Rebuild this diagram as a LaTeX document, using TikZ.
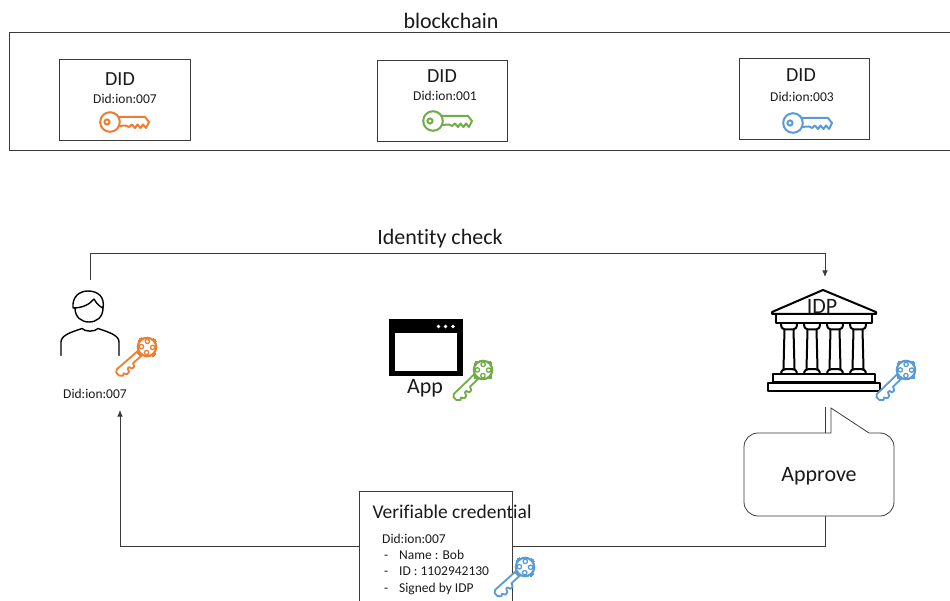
\documentclass[tikz,border=0pt]{standalone}
\usepackage{fontspec}
\setmainfont[Ligatures={NoCommon}]{Carlito}
\usetikzlibrary{arrows.meta}
\definecolor{korange}{HTML}{ED7D31}
\definecolor{kgreen}{HTML}{70AD47}
\definecolor{kblue}{HTML}{5B9BD5}
\definecolor{ink}{HTML}{1A1A1A}
\definecolor{edge}{HTML}{3A3A3A}
\tikzset{
  big/.style={font=\fontsize{22}{24}\selectfont,text=ink,inner sep=0pt},
  mid/.style={font=\fontsize{20}{22}\selectfont,text=ink,inner sep=0pt},
  vctitle/.style={font=\fontsize{19.5}{22}\selectfont,text=ink,inner sep=0pt},
  small/.style={font=\fontsize{13.5}{15}\selectfont,text=ink,inner sep=0pt},
  didbox/.style={draw=edge,line width=0.8pt,minimum width=130.5pt,minimum height=81pt,inner sep=0pt},
  link/.style={draw=edge,line width=0.8pt},
  tip/.style={-{Latex[length=6.5pt,width=5.5pt]}},
  ghost/.style={inner sep=0pt,outer sep=0pt},
  pics/flatkey/.style={code={
    \begin{scope}[draw=#1,line width=2pt,line join=round]
      \draw[fill=white] (8,-5) -- (35,-5) -- (39,0) -- (36,6) -- (33,2.5) -- (30.5,6) -- (27.5,2.5) -- (25,6) -- (22,2.5) -- (19,5) -- (16,3.5) -- (8,4);
      \draw[fill=white] (0,0) circle (9.8);
      \draw (-3,0) circle (2.6);
    \end{scope}
  }},
  pics/ornatekey/.style={code={
    \begin{scope}[draw=#1,line width=1.8pt,line join=round]
      \draw[fill=white] (9,-3) -- (21,-3) -- (22.5,-6.5) -- (25.5,-6.5) -- (26.5,-3.5) -- (28.5,-3.5) -- (30,-7) -- (33,-7.5) -- (35,-4.5) -- (37,-6) -- (40,-3) -- (40,1) -- (37.5,3) -- (9,3);
      \foreach \a in {0,90,180,270}
        \draw[fill=#1,line width=0pt] (\a:8.8) circle (2.6);
      \draw[fill=white,line width=2.2pt] (0,0) circle (9.2);
      \foreach \a in {45,135,225,315}
        \draw[line width=1.3pt] (\a:5.6) circle (2.2);
    \end{scope}
  }},
}
\begin{document}
\begin{tikzpicture}[x=1pt,y=-1pt]
\useasboundingbox (0,0) rectangle (950,601);
% blockchain band
\node[big] (chain) at (451,20.5) {blockchain};
\coordinate (bandA) at (950,32);
\coordinate (bandB) at (950,150.5);
\draw[link] (bandA) -- (9.5,32) -- (9.5,150.5) -- (bandB);
% DID boxes
\node[didbox] (boxa) at (124.75,99.5) {};
\node[mid] (dida) at (120,79) {DID};
\node[small] (ida) at (125,98.5) {Did:ion:007};
\pic at (110,122) {flatkey=korange};
\node[didbox] (boxb) at (442.25,100.5) {};
\node[mid] (didb) at (442,76) {DID};
\node[small] (idb) at (445,95.5) {Did:ion:001};
\pic at (433,121) {flatkey=kgreen};
\node[didbox] (boxc) at (804.25,99) {};
\node[mid] (didc) at (801,75) {DID};
\node[small] (idc) at (802,97) {Did:ion:003};
\pic at (793,123) {flatkey=kblue};
% anchor regions for the actors
\node[ghost,minimum width=60pt,minimum height=130pt] (user) at (90,345) {};
\node[ghost,minimum width=110pt,minimum height=130pt] (idp) at (825,342) {};
\node[ghost,minimum width=153pt,minimum height=110pt] (vc) at (435.5,546.5) {};
% connectors
\node[big] (check) at (440,238.5) {Identity check};
\draw[link,tip] (user.north) -- ++(0,-27) -| (idp.north);
\draw[link,tip] (vc.west) -| (user.south east);
\draw[link] (vc.east) -| (idp.south);
% person
\begin{scope}[draw=black,line width=1.4pt,line cap=round,line join=round]
  \draw (75,308) .. controls (75,317) and (81,322) .. (89,322) .. controls (97,322) and (103,317) .. (103,308);
  \draw (73,308) .. controls (72,297) and (79,291) .. (88,291) .. controls (98,291) and (105,297) .. (103,308) .. controls (100,307) and (96,303) .. (94,299) .. controls (90,304) and (83,308) .. (73,308);
  \draw (61,355.5) -- (61,342) .. controls (61,335) and (72,332) .. (82,328.5) .. controls (85,332) and (95,332) .. (98,328.5) .. controls (108,332) and (119,335) .. (119,342) -- (119,355.5);
\end{scope}
\pic[rotate=221] at (147,347) {ornatekey=korange};
\node[small] (idu) at (95,394) {Did:ion:007};
% app window
\fill[black] (389,319) rectangle (463,376);
\fill[white] (395,333) rectangle (457,371);
\fill[white] (438.5,326.5) circle (1.8) (445.5,326.5) circle (1.8) (453,326.5) circle (1.8);
\node[big] (app) at (425,388) {App};
\pic[rotate=224] at (483,370) {ornatekey=kgreen};
% bank building
\begin{scope}[draw=black,line width=2pt,line join=round]
  \draw (823,290) -- (772,312) -- (772,314) -- (876,314) -- (876,312) -- cycle;
  \draw (776,314) rectangle (872,323);
  \foreach \c in {789,812,835,858} {
    \draw (\c-8,324) .. controls (\c-8,328) and (\c-6,329.5) .. (\c-4,329.5) -- (\c+4,329.5) .. controls (\c+6,329.5) and (\c+8,328) .. (\c+8,324);
    \draw (\c-4.5,329) -- (\c-5.5,369) (\c+4.5,329) -- (\c+5.5,369);
    \draw (\c-8,374) .. controls (\c-8,370) and (\c-5,369) .. (\c-3,369) -- (\c+3,369) .. controls (\c+5,369) and (\c+8,370) .. (\c+8,374);
  }
  \draw (773,374) rectangle (875,382);
  \draw (768,382.5) rectangle (880,391);
\end{scope}
\node[big] (idpl) at (822,306) {IDP};
\pic[rotate=224] at (906,370) {ornatekey=kblue};
% approve callout
\draw[draw=edge,line width=0.8pt,fill=white]
  (831,433) -- (831,408) -- (869,433) [rounded corners=14pt] -- (894,433) -- (894,516) -- (744,516) -- (744,433) [sharp corners] -- cycle;
\draw[link] (825,407) -- (825,433);
\node[big] (approve) at (819,476) {Approve};
% credential box
\coordinate (vcA) at (359.5,601);
\coordinate (vcB) at (512,601);
\draw[link] (vcA) -- (359.5,491) -- (512,491) -- (vcB);
\node[vctitle] (vct) at (452,512) {Verifiable credential};
\node[small,anchor=base west] (l0) at (382,543.5) {Did:ion:007};
\node[small,anchor=base west] (d1) at (384,559.5) {-};
\node[small,anchor=base west] (l1) at (399,559.5) {Name : Bob};
\node[small,anchor=base west] (d2) at (384,575.5) {-};
\node[small,anchor=base west] (l2) at (399,575.5) {ID : 1102942130};
\node[small,anchor=base west] (d3) at (384,592) {-};
\node[small,anchor=base west] (l3) at (399,592) {Signed by IDP};
\pic[rotate=222] at (525,567) {ornatekey=kblue};
\end{tikzpicture}
\end{document}
